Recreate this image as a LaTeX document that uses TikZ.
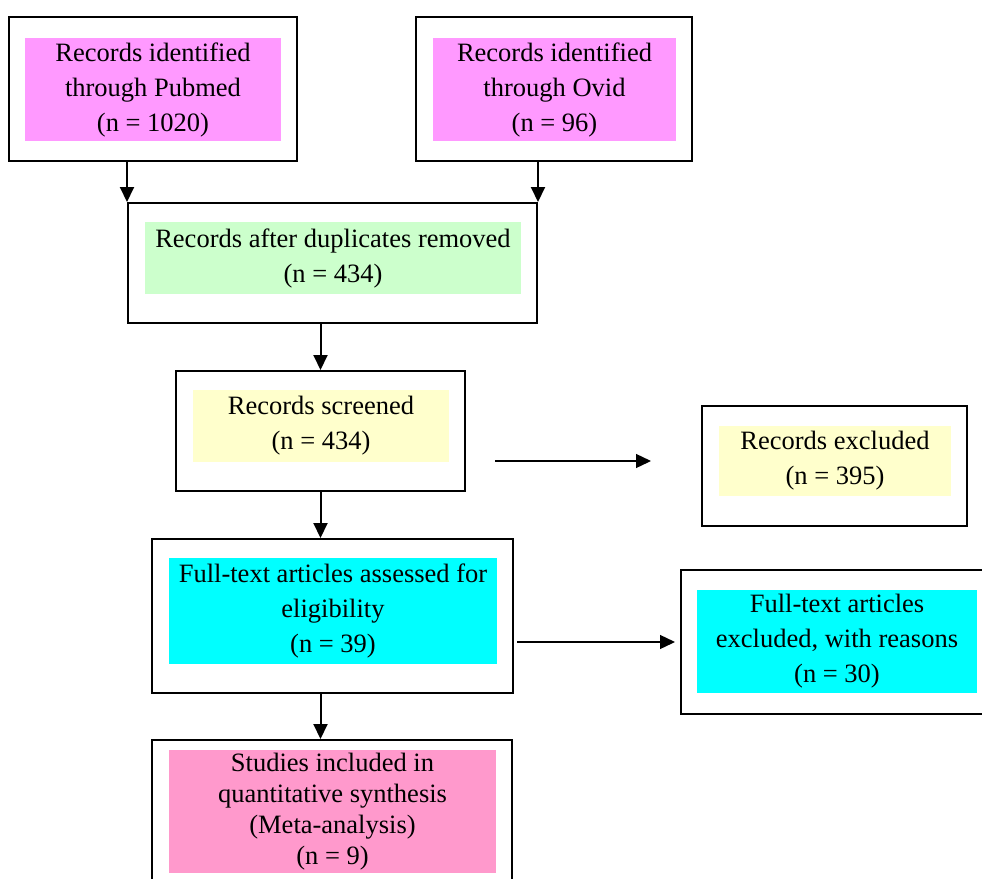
\documentclass[tikz,border=0pt]{standalone}
\usepackage{fontspec}
\setmainfont{Liberation Serif}
\usetikzlibrary{arrows.meta}
\definecolor{pubfill}{HTML}{FF99FF}
\definecolor{dupfill}{HTML}{CCFFCC}
\definecolor{scrfill}{HTML}{FFFFCC}
\definecolor{ftfill}{HTML}{00FFFF}
\definecolor{incfill}{HTML}{FF99CC}

\begin{document}
\begin{tikzpicture}[x=1pt, y=-1pt,
        outerbox/.style={draw, line width=2pt, inner sep=0pt},
        textbox/.style={inner sep=0pt, align=center, font=\fontsize{26.5}{35}\selectfont},
        varr/.style={-{Triangle[width=14pt,length=15pt]}, line width=2pt},
        harr/.style={-{Triangle[width=14pt,length=15pt]}, line width=1.3pt}]
        \useasboundingbox (0,0) rectangle (982,878);
        \fill[white] (0,0) rectangle (982,878);

        % frames
        \node[outerbox, minimum width=288pt, minimum height=144pt] (pubmed) at (153,89) {};
        \node[outerbox, minimum width=276pt, minimum height=144pt] (ovid) at (554,89) {};
        \node[outerbox, minimum width=409pt, minimum height=120pt] (dup) at (332.5,263) {};
        \node[outerbox, minimum width=289pt, minimum height=120pt] (screened) at (320.5,431) {};
        \node[outerbox, minimum width=265pt, minimum height=120pt] (excl) at (834.5,466) {};
        \node[outerbox, minimum width=361pt, minimum height=154pt] (ft) at (332.5,616) {};
        \node[outerbox, minimum width=303pt, minimum height=144pt] (ftexcl) at (832.5,642) {};
        \node[outerbox, minimum width=360pt, minimum height=160pt] (incl) at (332,820) {};

        % coloured text blocks
        \node[textbox, fill=pubfill, minimum width=256pt, minimum height=103pt] (pubmedtxt) at (153,89.5)
            {Records identified\\through Pubmed\\(n = 1020)};
        \node[textbox, fill=pubfill, minimum width=243pt, minimum height=103pt] (ovidtxt) at (554.5,89.5)
            {Records identified\\through Ovid\\(n = 96)};
        \node[textbox, fill=dupfill, minimum width=376pt, minimum height=72pt] (duptxt) at (333,258)
            {Records after duplicates removed\\(n = 434)};
        \node[textbox, fill=scrfill, minimum width=256pt, minimum height=72pt] (screenedtxt) at (321,426)
            {Records screened\\(n = 434)};
        \node[textbox, fill=scrfill, minimum width=232pt, minimum height=70pt] (excltxt) at (835,461)
            {Records excluded\\(n = 395)};
        \node[textbox, fill=ftfill, minimum width=328pt, minimum height=106pt] (fttxt) at (333,611)
            {Full-text articles assessed for\\eligibility\\(n = 39)};
        \node[textbox, fill=ftfill, minimum width=280pt, minimum height=103pt] (ftexcltxt) at (837,641)
            {Full-text articles\\excluded, with reasons\\(n = 30)};
        \node[textbox, fill=incfill, minimum width=327pt, minimum height=123pt,
            font=\fontsize{26.5}{31}\selectfont] (incltxt) at (332.5,811.5)
            {Studies included in\\quantitative synthesis\\(Meta-analysis)\\(n = 9)};

        % connectors
        \coordinate (scrfrom) at (495,461);
        \coordinate (scrto) at (651,461);
        \coordinate (ftfrom) at (517,642);
        \coordinate (ftto) at (675,642);

        \draw[varr] (pubmed.south -| dup.north west) -- (dup.north west);
        \draw[varr] (ovid.south -| dup.north east) -- (dup.north east);
        \draw[varr] (dup.south -| screened.north) -- (screened.north);
        \draw[varr] (screened.south) -- (ft.north -| screened.south);
        \draw[varr] (ft.south -| screened.south) -- (incl.north -| screened.south);
        \draw[harr] (scrfrom) -- (scrto);
        \draw[harr] (ftfrom) -- (ftto);
\end{tikzpicture}
\end{document}
